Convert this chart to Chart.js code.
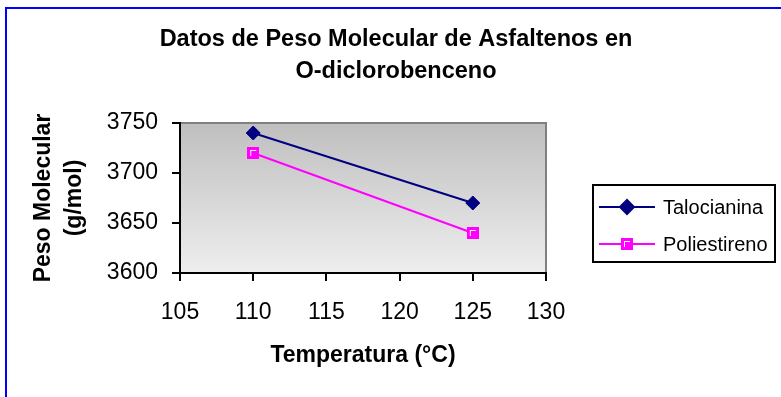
<!DOCTYPE html>
<html>
<head>
<meta charset="utf-8">
<script src="https://cdn.jsdelivr.net/npm/chart.js@4.4.1/dist/chart.umd.min.js"></script>
<style>
html, body { margin: 0; padding: 0; background: #fff; }
canvas { display: block; }
</style>
</head>
<body>
<canvas id="molChart" width="781" height="397"></canvas>
<script>
// datos
const temperaturas = [110, 125];
const talocianina = [3740, 3670];
const poliestireno = [3720, 3640];
const seriesNames = ['Talocianina', 'Poliestireno'];
const chartTitle = ['Datos de Peso Molecular de Asfaltenos en', 'O-diclorobenceno'];
const xTitle = 'Temperatura (°C)';
const yTitle = ['Peso Molecular', '(g/mol)'];
const xRange = [105, 130, 5];      // min, max, paso
const yRange = [3600, 3750, 50];

const FONT = "'Liberation Sans', Arial, sans-serif";

// marcador cuadrado estilo Excel (magenta con brillo blanco)
function squareMarker() {
    const c = document.createElement('canvas');
    c.width = 12; c.height = 12;
    const g = c.getContext('2d');
    g.fillStyle = '#FF00FF';
    g.fillRect(0, 0, 12, 12);
    g.fillStyle = '#FFFFFF';
    g.fillRect(3, 3, 6, 1);
    g.fillRect(3, 3, 1, 6);
    return c;
}
const squareImg = squareMarker();

const excelLook = {
    id: 'excelLook',
    beforeDraw(chart) {
        const { ctx, chartArea: a } = chart;
        ctx.save();
        const grad = ctx.createLinearGradient(0, a.top, 0, a.bottom);
        grad.addColorStop(0, '#BFBFBF');
        grad.addColorStop(1, '#EEEEEE');
        ctx.fillStyle = grad;
        ctx.fillRect(a.left, a.top, a.right - a.left, a.bottom - a.top);
        ctx.strokeStyle = '#808080';
        ctx.lineWidth = 2;
        ctx.beginPath();
        ctx.moveTo(a.left, a.top);
        ctx.lineTo(a.right, a.top);
        ctx.lineTo(a.right, a.bottom);
        ctx.stroke();
        ctx.restore();
    },
    afterDraw(chart) {
        const ctx = chart.ctx;
        ctx.save();
        // marco azul
        ctx.fillStyle = '#0000FF';
        ctx.fillRect(5, 7, 2, 390);
        ctx.fillRect(5, 7, 776, 2);

        // titulo
        ctx.fillStyle = '#000';
        ctx.font = `bold 23.5px ${FONT}`;
        ctx.textAlign = 'center';
        ctx.textBaseline = 'alphabetic';
        ctx.fillText(chartTitle[0], 396, 46);
        ctx.fillText(chartTitle[1], 396, 78);

        // leyenda
        ctx.strokeStyle = '#000';
        ctx.lineWidth = 2;
        ctx.strokeRect(593, 185, 182, 77);
        ctx.font = `20px ${FONT}`;
        ctx.textAlign = 'left';
        ctx.textBaseline = 'middle';
        chart.data.datasets.forEach((ds, i) => {
            const y = 207 + i * 37;
            ctx.strokeStyle = ds.borderColor;
            ctx.lineWidth = 2;
            ctx.beginPath();
            ctx.moveTo(599, y);
            ctx.lineTo(655, y);
            ctx.stroke();
            ctx.fillStyle = ds.backgroundColor;
            Chart.helpers.drawPoint(ctx, {
                pointStyle: ds.pointStyle, radius: ds.pointRadius, rotation: 0, borderWidth: 1
            }, 627, y);
            ctx.fillStyle = '#000';
            ctx.fillText(ds.label, 663, y + 1);
        });
        ctx.restore();
    }
};

const ctx = document.getElementById('molChart').getContext('2d');
new Chart(ctx, {
    type: 'line',
    data: {
        datasets: [{
            label: seriesNames[0],
            data: temperaturas.map((t, i) => ({ x: t, y: talocianina[i] })),
            borderColor: '#000080',
            backgroundColor: '#000080',
            borderWidth: 2,
            pointStyle: 'rectRot',
            pointRadius: 7,
            pointBorderWidth: 1,
            tension: 0
        }, {
            label: seriesNames[1],
            data: temperaturas.map((t, i) => ({ x: t, y: poliestireno[i] })),
            borderColor: '#FF00FF',
            backgroundColor: '#FF00FF',
            borderWidth: 2,
            pointStyle: squareImg,
            pointRadius: 6,
            tension: 0
        }]
    },
    options: {
        responsive: false,
        animation: false,
        devicePixelRatio: 1,
        events: [],
        layout: { padding: { top: 123, right: 235, bottom: 0, left: 0 } },
        plugins: {
            legend: { display: false },
            tooltip: { enabled: false },
            title: { display: false }
        },
        scales: {
            x: {
                type: 'linear',
                min: xRange[0], max: xRange[1],
                ticks: {
                    stepSize: xRange[2], color: '#000', font: { family: FONT, size: 23 }, padding: 18, maxRotation: 0,
                    callback: v => String(v)
                },
                grid: { drawOnChartArea: false, drawTicks: true, tickLength: 8, tickWidth: 2, tickColor: '#000', color: '#000', lineWidth: 2 },
                border: { color: '#000', width: 2 },
                title: {
                    display: true, text: xTitle, color: '#000',
                    font: { family: FONT, size: 23, weight: 'bold', lineHeight: 1.2 },
                    padding: { top: 0, bottom: 28 }
                },
                afterFit(s) { s.height = 124; }
            },
            y: {
                min: yRange[0], max: yRange[1],
                ticks: {
                    stepSize: yRange[2], color: '#000', font: { family: FONT, size: 23 }, padding: 14,
                    callback: v => String(v)
                },
                grid: { drawOnChartArea: false, drawTicks: true, tickLength: 8, tickWidth: 2, tickColor: '#000', color: '#000', lineWidth: 2 },
                border: { color: '#000', width: 2 },
                title: {
                    display: true, text: yTitle, color: '#000',
                    font: { family: FONT, size: 23, weight: 'bold', lineHeight: 1.35 },
                    padding: { top: 28, bottom: 0 }
                },
                afterFit(s) { s.width = 180; }
            }
        }
    },
    plugins: [excelLook]
});
</script>
</body>
</html>
